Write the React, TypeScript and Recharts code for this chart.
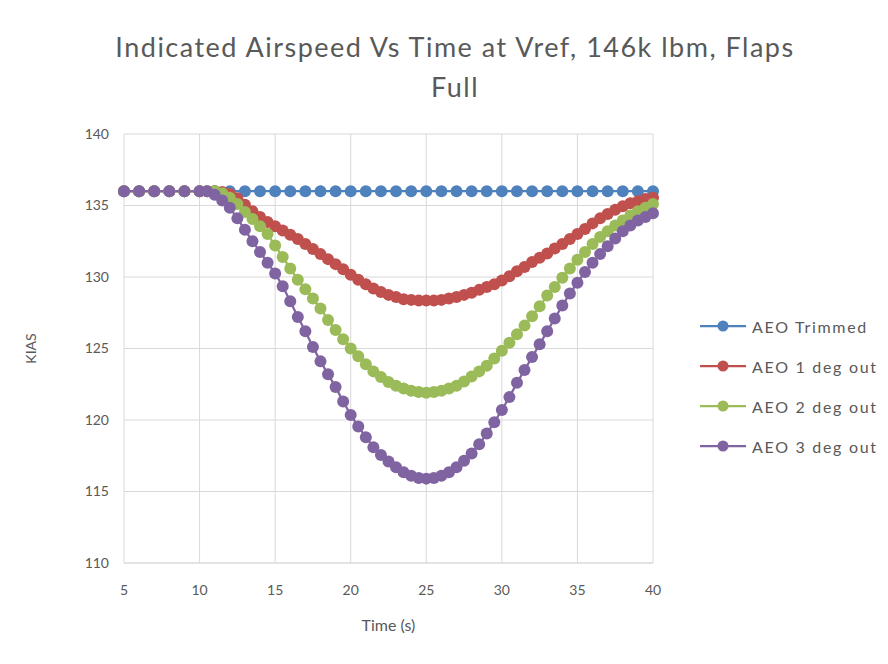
import { LineChart, Line, XAxis, YAxis, CartesianGrid, Legend, Label } from "recharts";

const titleLines = ["Indicated Airspeed Vs Time at Vref, 146k lbm, Flaps", "Full"];

// trimmed run is sampled every second
const trimTime = [5, 6, 7, 8, 9, 10, 11, 12, 13, 14, 15, 16, 17, 18, 19, 20, 21, 22, 23, 24, 25, 26, 27, 28, 29, 30, 31, 32, 33, 34, 35, 36, 37, 38, 39, 40];
const trimmed = [136, 136, 136, 136, 136, 136, 136, 136, 136, 136, 136, 136, 136, 136, 136, 136, 136, 136, 136, 136, 136, 136, 136, 136, 136, 136, 136, 136, 136, 136, 136, 136, 136, 136, 136, 136];

// flap-out runs: 1 s steps up to 10 s, then 0.5 s
const devTime = [
  5, 6, 7, 8, 9, 10, 10.5, 11, 11.5, 12, 12.5, 13, 13.5, 14, 14.5, 15, 15.5, 16, 16.5, 17, 17.5, 18, 18.5, 19, 19.5, 20,
  20.5, 21, 21.5, 22, 22.5, 23, 23.5, 24, 24.5, 25, 25.5, 26, 26.5, 27, 27.5, 28, 28.5, 29, 29.5, 30, 30.5, 31, 31.5, 32,
  32.5, 33, 33.5, 34, 34.5, 35, 35.5, 36, 36.5, 37, 37.5, 38, 38.5, 39, 39.5, 40,
];
const deg1 = [
  136, 136, 136, 136, 136, 136, 136, 136, 135.95, 135.8, 135.5, 135.05, 134.6, 134.2, 133.85, 133.55, 133.25, 132.95,
  132.65, 132.3, 131.95, 131.6, 131.25, 130.9, 130.55, 130.15, 129.8, 129.5, 129.2, 128.95, 128.75, 128.6, 128.45, 128.4,
  128.35, 128.35, 128.35, 128.4, 128.5, 128.6, 128.75, 128.9, 129.1, 129.3, 129.5, 129.75, 130.05, 130.4, 130.7, 131.05,
  131.35, 131.65, 132.0, 132.3, 132.65, 133.0, 133.35, 133.75, 134.1, 134.4, 134.7, 134.95, 135.15, 135.3, 135.45, 135.55,
];
const deg2 = [
  136, 136, 136, 136, 136, 136, 136, 136, 135.85, 135.55, 135.1, 134.55, 134.05, 133.55, 133.0, 132.2, 131.4, 130.6,
  129.8, 129.15, 128.5, 127.8, 127.0, 126.3, 125.65, 125.0, 124.45, 123.9, 123.4, 123.0, 122.65, 122.4, 122.2, 122.05,
  121.95, 121.9, 121.95, 122.05, 122.2, 122.4, 122.7, 123.05, 123.4, 123.8, 124.3, 124.85, 125.4, 126.0, 126.6, 127.25,
  127.95, 128.7, 129.3, 129.95, 130.6, 131.2, 131.75, 132.3, 132.8, 133.2, 133.6, 133.95, 134.3, 134.6, 134.85, 135.1,
];
const deg3 = [
  136, 136, 136, 136, 136, 136, 136, 135.75, 135.35, 134.85, 134.1, 133.3, 132.5, 131.75, 131.0, 130.25, 129.35, 128.3,
  127.2, 126.2, 125.1, 124.1, 123.2, 122.3, 121.3, 120.35, 119.55, 118.8, 118.1, 117.55, 117.1, 116.7, 116.35, 116.1,
  115.95, 115.9, 115.95, 116.1, 116.35, 116.7, 117.15, 117.65, 118.3, 119.05, 119.85, 120.7, 121.6, 122.6, 123.5, 124.4,
  125.3, 126.2, 127.1, 128.0, 128.85, 129.6, 130.35, 131.0, 131.6, 132.15, 132.7, 133.2, 133.6, 133.95, 134.2, 134.45,
];

const xTicks = [5, 10, 15, 20, 25, 30, 35, 40];
const yTicks = [110, 115, 120, 125, 130, 135, 140];

const series = [
  { name: "AEO Trimmed", color: "#4F81BD", time: trimTime, values: trimmed },
  { name: "AEO 1 deg out", color: "#C0504D", time: devTime, values: deg1 },
  { name: "AEO 2 deg out", color: "#9BBB59", time: devTime, values: deg2 },
  { name: "AEO 3 deg out", color: "#8064A2", time: devTime, values: deg3 },
];

const FONT = 'Lato, "Open Sans", sans-serif';
const TEXT = "#595959";
const GRID = "#D9D9D9";
const DOT_R = 6;

// legend keeps series order (recharts sorts by name otherwise)
function LegendBox({ payload }: any) {
  const items = [...(payload || [])].sort(
    (a: any, b: any) => series.findIndex((s) => s.name === a.value) - series.findIndex((s) => s.name === b.value)
  );
  return (
    <div>
      {items.map((p: any) => (
        <div key={p.value} style={{ display: "flex", alignItems: "center", height: 40 }}>
          <svg width={46} height={14}>
            <line x1={0} x2={46} y1={7} y2={7} stroke={p.color} strokeWidth={2.25} />
            <circle cx={23} cy={7} r={5.5} fill={p.color} />
          </svg>
          <span style={{ marginLeft: 6, fontSize: 16, letterSpacing: 1.7, color: TEXT, fontFamily: FONT }}>{p.value}</span>
        </div>
      ))}
    </div>
  );
}

function marker(color: string) {
  return (props: any) => <circle key={props.index} cx={props.cx} cy={props.cy} r={DOT_R} fill={color} />;
}

export default function App() {
  return (
    <div style={{ position: "relative", width: 880, height: 648, fontFamily: FONT }}>
      <div
        style={{
          position: "absolute",
          left: -2,
          top: -1,
          width: 882,
          height: 650,
          borderTop: `1px solid ${GRID}`,
          borderLeft: `1px solid ${GRID}`,
          boxSizing: "border-box",
        }}
      />
      <div
        style={{
          position: "absolute",
          left: 40,
          top: 19,
          width: 814,
          textAlign: "center",
          fontSize: 27,
          letterSpacing: 1.5,
          lineHeight: "40px",
          color: TEXT,
        }}
      >
        {titleLines.map((l) => (
          <div key={l}>{l}</div>
        ))}
      </div>
      <LineChart width={880} height={648} margin={{ top: 126, right: 235, left: 0, bottom: 33 }}>
        <CartesianGrid stroke={GRID} strokeWidth={1} />
        <XAxis
          type="number"
          dataKey="t"
          domain={[5, 40]}
          ticks={xTicks}
          height={60}
          tickSize={0}
          tickMargin={22}
          axisLine={{ stroke: GRID }}
          tick={{ fill: TEXT, fontSize: 14, fontFamily: FONT }}
          allowDuplicatedCategory={false}
        >
          <Label
            content={({ viewBox }: any) => (
              <text x={viewBox.x + viewBox.width / 2} y={viewBox.y + 68} textAnchor="middle" fill={TEXT} fontSize={16} fontFamily={FONT}>
                Time (s)
              </text>
            )}
          />
        </XAxis>
        <YAxis
          type="number"
          domain={[110, 140]}
          ticks={yTicks}
          width={116}
          tickSize={0}
          tickMargin={15}
          axisLine={false}
          tick={{ fill: TEXT, fontSize: 14, fontFamily: FONT }}
        >
          <Label
            content={({ viewBox }: any) => {
              const cx = viewBox.x + 22;
              const cy = viewBox.y + viewBox.height / 2;
              return (
                <text x={cx} y={cy} transform={`rotate(-90, ${cx}, ${cy})`} textAnchor="middle" dominantBaseline="central" fill={TEXT} fontSize={14} fontFamily={FONT}>
                  KIAS
                </text>
              );
            }}
          />
        </YAxis>
        <Legend
          layout="vertical"
          align="center"
          verticalAlign="middle"
          content={LegendBox}
          wrapperStyle={{ left: 692, top: 298, width: 190 }}
        />
        {series.map((s) => (
          <Line
            key={s.name}
            name={s.name}
            data={s.time.map((t, i) => ({ t, v: s.values[i] }))}
            dataKey="v"
            type="linear"
            stroke={s.color}
            strokeWidth={2.25}
            dot={marker(s.color)}
            activeDot={false}
            isAnimationActive={false}
          />
        ))}
      </LineChart>
    </div>
  );
}
